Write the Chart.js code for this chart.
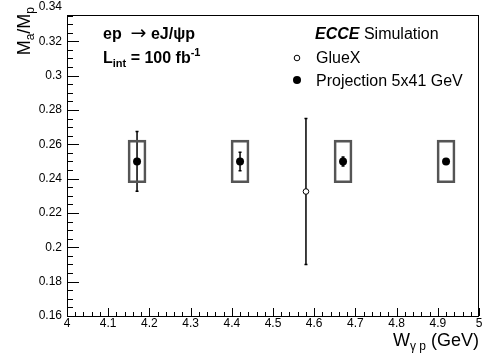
<!DOCTYPE html>
<html>
<head>
<meta charset="utf-8">
<script src="https://cdn.jsdelivr.net/npm/chart.js@4.4.1/dist/chart.umd.min.js"></script>
<style>
  html, body { margin: 0; padding: 0; background: #fff; }
  #wrap { width: 488px; height: 354px; }
</style>
</head>
<body>
<div id="wrap"><canvas id="c" width="488" height="354"></canvas></div>
<script>
// Projection 5x41 GeV points (stat errors + systematic boxes)
const projW = [4.17, 4.42, 4.67, 4.92];
const projRatio = [0.25, 0.25, 0.25, 0.25];
const projStat = [0.0174, 0.0054, 0.0026, 0.0012];
const projSys = [0.0124, 0.0124, 0.0124, 0.0124];

// GlueX point
const gluexW = [4.58];
const gluexRatio = [0.2325];
const gluexErr = [0.0425];

// axis labels
const xTickValues = [4, 4.1, 4.2, 4.3, 4.4, 4.5, 4.6, 4.7, 4.8, 4.9, 5];
const yTickValues = [0.16, 0.18, 0.2, 0.22, 0.24, 0.26, 0.28, 0.3, 0.32, 0.34];

const FONT = '"Liberation Sans", Arial, Helvetica, sans-serif';

// draw a run of text pieces (for sub/superscripts)
function drawRich(ctx, parts, x, y, align) {
  let total = 0;
  parts.forEach(p => { ctx.font = p.font; total += ctx.measureText(p.t).width; });
  let cx = align === 'right' ? x - total : x;
  ctx.textAlign = 'left';
  ctx.textBaseline = 'alphabetic';
  parts.forEach(p => {
    ctx.font = p.font;
    ctx.fillText(p.t, cx, y + (p.dy || 0));
    cx += ctx.measureText(p.t).width;
  });
}

const rootStyle = {
  id: 'rootStyle',
  beforeDatasetsDraw(chart) {
    const ctx = chart.ctx;
    const { x, y } = chart.scales;
    ctx.save();
    ctx.strokeStyle = '#000';
    ctx.lineWidth = 1.5;
    const bars = (ws, vs, es) => {
      ws.forEach((w, i) => {
        const px = x.getPixelForValue(w);
        const top = y.getPixelForValue(vs[i] + es[i]);
        const bot = y.getPixelForValue(vs[i] - es[i]);
        ctx.beginPath();
        ctx.moveTo(px, top); ctx.lineTo(px, bot);
        ctx.moveTo(px - 1.5, top); ctx.lineTo(px + 1.5, top);
        ctx.moveTo(px - 1.5, bot); ctx.lineTo(px + 1.5, bot);
        ctx.stroke();
      });
    };
    bars(projW, projRatio, projStat);
    bars(gluexW, gluexRatio, gluexErr);
    ctx.restore();
  },
  afterDraw(chart) {
    const ctx = chart.ctx;
    const a = chart.chartArea;
    const { x, y } = chart.scales;
    ctx.save();
    ctx.strokeStyle = '#000';
    ctx.lineWidth = 1;

    // ticks inside the frame
    ctx.beginPath();
    for (let i = 0; i <= 50; i++) {
      const v = x.min + i * 0.02;
      const px = Math.round(x.getPixelForValue(v)) + 0.5;
      const len = i % 5 === 0 ? 8 : 4;
      ctx.moveTo(px, a.bottom); ctx.lineTo(px, a.bottom - len);
    }
    for (let i = 0; ; i++) {
      const v = y.min + i * 0.005;
      if (v > y.max) break;
      const py = Math.round(y.getPixelForValue(v)) + 0.5;
      const len = i % 4 === 0 ? 12 : 6;
      ctx.moveTo(a.left, py); ctx.lineTo(a.left + len, py);
    }
    ctx.stroke();

    // frame
    ctx.strokeRect(a.left + 0.5, a.top + 0.5, a.right - a.left - 1, a.bottom - a.top);

    ctx.fillStyle = '#000';
    // axis titles
    drawRich(ctx, [
      { t: 'W', font: '18px ' + FONT },
      { t: '\u03b3 p', font: '12px ' + FONT, dy: 4 },
      { t: ' (GeV)', font: '18px ' + FONT }
    ], 479, 346, 'right');

    ctx.save();
    ctx.translate(30, 7);
    ctx.rotate(-Math.PI / 2);
    drawRich(ctx, [
      { t: 'M', font: '18px ' + FONT },
      { t: 'a', font: '12px ' + FONT, dy: 4 },
      { t: '/M', font: '18px ' + FONT },
      { t: 'p', font: '12px ' + FONT, dy: 4 }
    ], 0, 0, 'right');
    ctx.restore();

    // annotations
    drawRich(ctx, [
      { t: 'ep  ', font: 'bold 16px ' + FONT },
      { t: '\u2192', font: '19px "DejaVu Sans", ' + FONT, dy: 0 },
      { t: ' eJ/\u03c8p', font: 'bold 16px ' + FONT }
    ], 103, 39);
    drawRich(ctx, [
      { t: 'L', font: 'bold 16px ' + FONT },
      { t: 'int', font: 'bold 11px ' + FONT, dy: 4 },
      { t: ' = 100 fb', font: 'bold 16px ' + FONT },
      { t: '-1', font: 'bold 11px ' + FONT, dy: -7 }
    ], 103, 63);
    drawRich(ctx, [
      { t: 'ECCE', font: 'italic bold 16px ' + FONT },
      { t: ' Simulation', font: '16px ' + FONT }
    ], 315, 39);

    // legend
    ctx.lineWidth = 1;
    ctx.beginPath();
    ctx.arc(297, 58, 2.8, 0, Math.PI * 2);
    ctx.fillStyle = '#fff'; ctx.fill(); ctx.stroke();
    ctx.beginPath();
    ctx.arc(297, 80, 4, 0, Math.PI * 2);
    ctx.fillStyle = '#000'; ctx.fill();
    drawRich(ctx, [{ t: 'GlueX', font: '16px ' + FONT }], 316, 63);
    drawRich(ctx, [{ t: 'Projection 5x41 GeV', font: '16px ' + FONT }], 316, 86);
    ctx.restore();
  }
};

new Chart(document.getElementById('c'), {
  type: 'scatter',
  data: {
    datasets: [
      {
        type: 'bar',
        label: 'sys',
        data: projW.map((w, i) => ({ x: w, y: [projRatio[i] - projSys[i], projRatio[i] + projSys[i]] })),
        backgroundColor: 'rgba(0,0,0,0)',
        borderColor: '#555',
        borderWidth: 2,
        borderSkipped: false,
        barThickness: 18,
        order: 3
      },
      {
        label: 'GlueX',
        data: gluexW.map((w, i) => ({ x: w, y: gluexRatio[i] })),
        pointStyle: 'circle',
        pointRadius: 2.8,
        backgroundColor: '#fff',
        borderColor: '#000',
        borderWidth: 1,
        order: 1
      },
      {
        label: 'Projection 5x41 GeV',
        data: projW.map((w, i) => ({ x: w, y: projRatio[i] })),
        pointStyle: 'circle',
        pointRadius: 4,
        backgroundColor: '#000',
        borderColor: '#000',
        borderWidth: 0,
        order: 0
      }
    ]
  },
  options: {
    responsive: false,
    animation: false,
    events: [],
    layout: { padding: { top: 15, right: 9, left: 0, bottom: 0 } },
    plugins: { legend: { display: false }, tooltip: { enabled: false } },
    scales: {
      x: {
        type: 'linear',
        min: 4,
        max: 5,
        offset: false,
        grid: { display: false, drawTicks: false },
        border: { display: false },
        afterBuildTicks: s => { s.ticks = xTickValues.map(v => ({ value: v })); },
        afterFit: s => { s.height = 38; },
        ticks: {
          autoSkip: false,
          maxRotation: 0,
          padding: 0,
          color: '#000',
          font: { family: FONT, size: 12 },
          callback: v => String(+v.toFixed(1))
        }
      },
      y: {
        type: 'linear',
        min: 0.16,
        max: 0.3353,
        beginAtZero: false,
        grid: { display: false, drawTicks: false },
        border: { display: false },
        afterBuildTicks: s => { s.ticks = yTickValues.map(v => ({ value: v })); },
        afterFit: s => { s.width = 67; },
        ticks: {
          autoSkip: false,
          padding: 5,
          color: '#000',
          font: { family: FONT, size: 12 },
          callback: v => String(+v.toFixed(2))
        }
      }
    }
  },
  plugins: [rootStyle]
});
</script>
</body>
</html>
